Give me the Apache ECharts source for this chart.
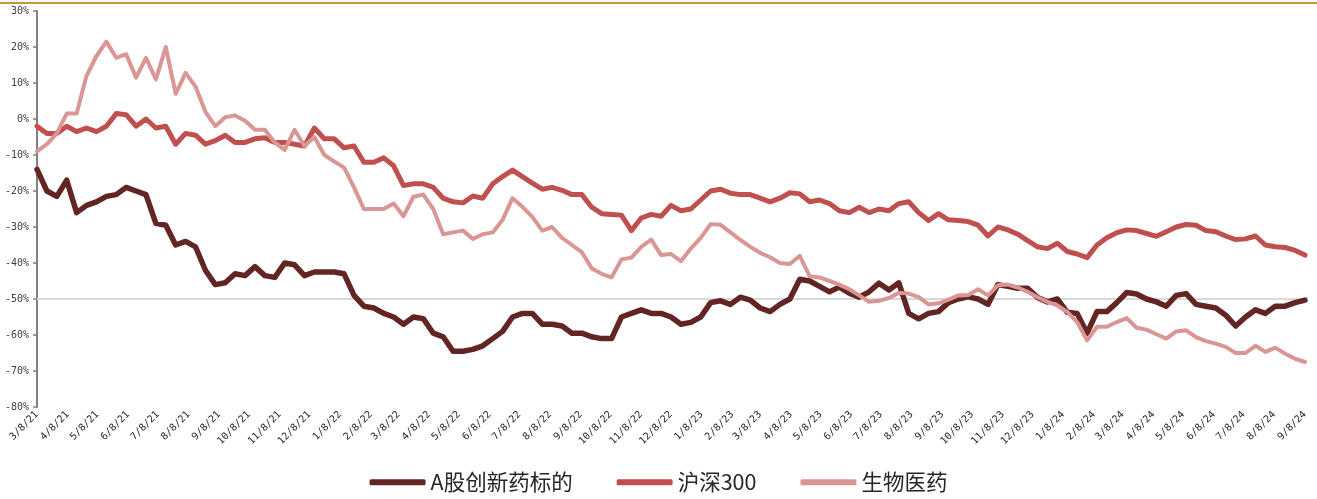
<!DOCTYPE html>
<html>
<head>
<meta charset="utf-8">
<script src="https://cdn.jsdelivr.net/npm/echarts@6/dist/echarts.min.js"></script>
<style>
  html, body { margin: 0; padding: 0; background: #fff; }
  #chart { width: 1317px; height: 499px; }
</style>
</head>
<body>
<div id="chart"></div>
<script>
// sample points: every 10 calendar days from 3/8/21 (day offsets)
var startDate = new Date(2021, 2, 8)
var endDate = new Date(2024, 8, 8)
var sampleStep = 10

var seriesNames = ['A股创新药标的', '沪深300', '生物医药']

var innovDrug = [
  -14, -20, -21.5, -17, -26, -24, -23, -21.5, -21, -19,
  -20, -21, -29, -29.5, -35, -34, -35.5, -42, -46, -45.5,
  -43, -43.5, -41, -43.5, -44, -40, -40.5, -43.5, -42.5, -42.5,
  -42.5, -43, -49, -52, -52.5, -54, -55, -57, -55, -55.5,
  -59.5, -60.5, -64.5, -64.5, -64, -63, -61, -59, -55, -54,
  -54, -57, -57, -57.5, -59.5, -59.5, -60.5, -61, -61, -55,
  -54, -53, -54, -54, -55, -57, -56.5, -55, -51, -50.5,
  -51.5, -49.5, -50.3, -52.5, -53.5, -51.5, -50, -44.5, -45, -46.5,
  -48, -46.7, -48.4, -49.5, -48, -45.6, -47.5, -45.5, -54, -55.5,
  -54, -53.5, -51, -50, -49.4, -50, -51.5, -46, -46.5, -47,
  -47, -49.6, -50.8, -50, -53.7, -54, -59.5, -53.5, -53.5, -51,
  -48.2, -48.6, -50, -50.8, -52, -49, -48.5, -51.5, -52, -52.5,
  -54.5, -57.5, -55, -53, -54, -52, -52, -51, -50.3
]

var csi300 = [
  -2, -4, -4, -2, -3.5, -2.5, -3.5, -2, 1.5, 1.2,
  -2, 0, -2.5, -2, -7, -4, -4.5, -7, -6, -4.5,
  -6.5, -6.5, -5.5, -5.2, -6.5, -6.5, -7, -7.5, -2.5, -5.5,
  -5.5, -8, -7.5, -12, -12, -10.8, -13, -18.5, -18, -18,
  -19, -22, -23, -23.3, -21.4, -22, -18, -16, -14.2, -16,
  -17.8, -19.5, -19, -19.8, -21, -21, -24.5, -26.3, -26.5, -26.7,
  -31, -27.5, -26.5, -27, -24, -25.5, -25, -22.5, -20, -19.5,
  -20.6, -21, -21, -22, -23, -22, -20.5, -20.8, -23, -22.5,
  -23.5, -25.5, -26, -24.5, -26, -25, -25.5, -23.5, -23, -26,
  -28.2, -26.3, -28, -28.2, -28.5, -29.5, -32.5, -30, -30.8, -32,
  -33.8, -35.5, -36, -34.5, -36.8, -37.5, -38.5, -35, -33, -31.6,
  -30.8, -31, -31.8, -32.6, -31.3, -30, -29.3, -29.5, -31, -31.3,
  -32.5, -33.5, -33.3, -32.5, -35, -35.5, -35.7, -36.5, -37.8
]

var bioMed = [
  -9, -7, -4, 1.5, 1.5, 12, 17.5, 21.5, 17, 18,
  11.5, 17, 11, 20, 7, 12.8, 9, 2, -2, 0.5,
  1, -0.5, -3, -3, -6.5, -8.6, -3, -7.5, -5, -10,
  -11.8, -13.5, -19, -25, -25, -25, -23.5, -27, -21.6, -21,
  -25, -32, -31.5, -31, -33.3, -32, -31.5, -28, -22, -24.4,
  -27.2, -31, -30, -33, -35, -37, -41.5, -43, -44, -39,
  -38.5, -35.5, -33.5, -37.8, -37.5, -39.5, -36, -33, -29.2, -29.4,
  -31.5, -33.6, -35.5, -37.2, -38.4, -40, -40.3, -38, -43.7, -44,
  -45, -46, -47.3, -49, -50.8, -50.5, -49.7, -48.3, -48.5, -49.5,
  -51.5, -51.2, -50.2, -49, -48.9, -47.3, -49, -46.2, -46, -46.8,
  -48, -49.5, -50.8, -51.8, -53.6, -56.4, -61.5, -57.7, -57.7, -56.4,
  -55.3, -58, -58.5, -59.8, -61, -59, -58.7, -60.6, -61.7, -62.4,
  -63.3, -65, -65, -63, -64.7, -63.5, -65.2, -66.6, -67.5
]

var colors = ['#632523', '#c0504d', '#d99694']
var widths = [5.5, 5, 4]

// one category per calendar day, labels shown on the 8th of each month
var days = []
for (var d = new Date(startDate); d <= endDate; d.setDate(d.getDate() + 1)) {
  days.push((d.getMonth() + 1) + '/' + d.getDate() + '/' + String(d.getFullYear()).slice(2))
}

function toPairs (values) {
  return values.map(function (v, i) { return [i * sampleStep, v] })
}

var allValues = [innovDrug, csi300, bioMed]
var series = seriesNames.map(function (name, i) {
  var s = {
    name: name,
    type: 'line',
    showSymbol: false,
    symbol: 'none',
    smooth: false,
    data: toPairs(allValues[i]),
    lineStyle: { color: colors[i], width: widths[i], join: 'round', cap: 'round' },
    itemStyle: { color: colors[i] },
    z: 3 + i
  }
  if (i === 0) {
    s.markLine = {
      silent: true,
      symbol: 'none',
      label: { show: false },
      lineStyle: { color: '#d9d9d9', width: 2, type: 'solid' },
      data: [{ yAxis: -50 }],
      z: 1
    }
  }
  return s
})

var chart = echarts.init(document.getElementById('chart'))
chart.setOption({
  animation: false,
  backgroundColor: '#fff',
  graphic: [{
    type: 'rect',
    left: 0,
    top: 2,
    shape: { width: 1317, height: 2 },
    style: { fill: '#c8963e' }
  }],
  grid: { left: 37, right: 12, top: 11, bottom: 92, containLabel: false },
  legend: {
    bottom: 1,
    left: 'center',
    itemWidth: 56,
    itemHeight: 6,
    itemGap: 44,
    icon: 'roundRect',
    textStyle: { fontSize: 21.5, color: '#262626', fontFamily: '"Noto Sans CJK SC", "Noto Sans", sans-serif' },
    data: seriesNames
  },
  xAxis: {
    type: 'category',
    data: days,
    boundaryGap: false,
    axisLine: { show: false },
    axisTick: { show: false },
    splitLine: { show: false },
    axisLabel: {
      interval: function (index, value) { return value.split('/')[1] === '8' },
      rotate: 45,
      margin: 6,
      fontSize: 10,
      color: '#262626',
      fontFamily: '"DejaVu Sans Mono", monospace'
    }
  },
  yAxis: {
    type: 'value',
    min: -80,
    max: 30,
    interval: 10,
    axisLine: { show: true, lineStyle: { color: '#808080', width: 2 } },
    axisTick: { show: true, length: 4, lineStyle: { color: '#808080', width: 1.5 } },
    splitLine: { show: false },
    axisLabel: {
      formatter: '{value}%',
      margin: 8,
      fontSize: 10,
      color: '#404040',
      fontFamily: '"DejaVu Sans Mono", monospace'
    }
  },
  series: series
})
</script>
</body>
</html>
